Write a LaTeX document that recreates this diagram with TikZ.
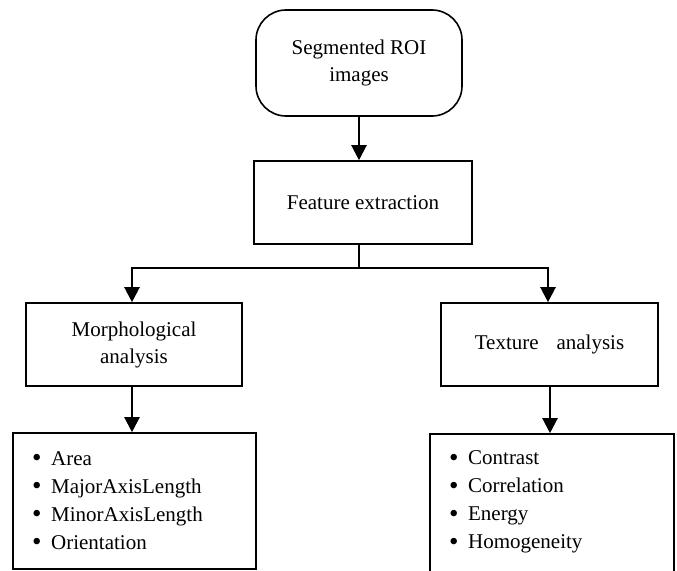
\documentclass[tikz,border=0pt]{standalone}
\usepackage{fontspec}
\setmainfont{Liberation Serif}
\usetikzlibrary{arrows.meta}
% list bullet, a little larger than the text bullet
\newcommand{\itembul}{\raisebox{-1.6pt}{\fontsize{27}{27}\selectfont•}\hspace{9.5pt}}
\begin{document}
\begin{tikzpicture}[x=1pt,y=-1pt,
  every node/.style={font=\fontsize{21}{27}\selectfont},
  boxstyle/.style={draw, line width=1.6pt, inner sep=0pt, align=center},
  flow/.style={line width=2.2pt, -{Triangle[length=15pt,width=15pt]}},
  link/.style={line width=2.2pt}]
\useasboundingbox (0,0) rectangle (677,570);
\clip (0,0) rectangle (677,570);

% start terminal
\node[boxstyle, rounded corners=30pt, minimum width=206pt, minimum height=106pt]
  (roi) at (359,63) {Segmented ROI\\images};
% main step
\node[boxstyle, minimum width=218pt, minimum height=83pt]
  (feat) at (363,202.5) {Feature extraction};
% two branches
\node[boxstyle, minimum width=216pt, minimum height=83pt]
  (morph) at (134,344.5) {Morphological\\analysis};
\node[boxstyle, minimum width=217pt, minimum height=83pt]
  (tex) at (549.5,344.5) {Texture\hspace{0.85em}analysis};
% feature lists
\node[boxstyle, minimum width=243pt, minimum height=136pt]
  (mlist) at (134.5,501) {};
\node[boxstyle, minimum width=244pt, minimum height=140pt]
  (tlist) at (552,504) {};
\node[inner sep=0pt, align=left, anchor=west, font=\fontsize{21}{28}\selectfont]
  (mitems) at (32,501)
  {\itembul Area\\\itembul MajorAxisLength\\\itembul MinorAxisLength\\\itembul Orientation};
\node[inner sep=0pt, align=left, anchor=west, font=\fontsize{21}{28}\selectfont]
  (titems) at (449,502)
  {\itembul Contrast\\\itembul Correlation\\\itembul Energy\\\itembul Homogeneity};

% connectors
\coordinate (split) at (359,268);
\draw[flow] (roi.south) -- (roi.south |- feat.north);
\draw[link] (split |- feat.south) -- (split);
\draw[flow] (split) -| (132,0 |- morph.north);
\draw[flow] (split) -| (548,0 |- tex.north);
\draw[flow] (132,0 |- morph.south) -- (132,0 |- mlist.north);
\draw[flow] (550,0 |- tex.south) -- (550,0 |- tlist.north);
\end{tikzpicture}
\end{document}
